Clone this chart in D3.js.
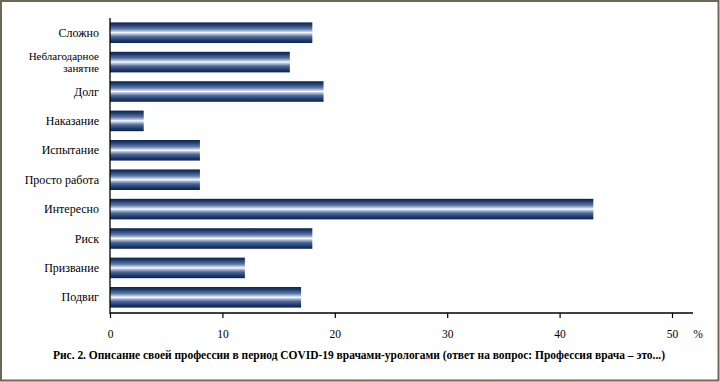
<!DOCTYPE html>
<html><head><meta charset="utf-8">
<script src="https://cdn.jsdelivr.net/npm/d3@7"></script>
<style>body{margin:0;background:#fff}svg{display:block}text{font-family:"Liberation Serif","DejaVu Serif","Times New Roman",serif}</style>
</head><body>
<script>
const categories = ["Сложно","Неблагодарное занятие","Долг","Наказание","Испытание","Просто работа","Интересно","Риск","Призвание","Подвиг"];
const labelLines = [["Сложно"],["Неблагодарное","занятие"],["Долг"],["Наказание"],["Испытание"],["Просто работа"],["Интересно"],["Риск"],["Призвание"],["Подвиг"]];
const values = [18,16,19,3,8,8,43,18,12,17];
const tickValues = [0,10,20,30,40,50];
const unitLabel = "%";
const caption = "Рис. 2. Описание своей профессии в период COVID-19 врачами-урологами (ответ на вопрос: Профессия врача – это...)";

const W=720,H=382;
const svg=d3.select("body").append("svg").attr("width",W).attr("height",H);
svg.append("rect").attr("x",1).attr("y",1).attr("width",W-2.5).attr("height",H-2.5)
  .attr("fill","#fff").attr("stroke","#6e6658").attr("stroke-width",2);

const x=d3.scaleLinear().domain([0,50]).range([110,672]);
const y=d3.scaleBand().domain(categories).range([18,312]).paddingInner(0.3).paddingOuter(0.15);

const defs=svg.append("defs");
const g=defs.append("linearGradient").attr("id","bg").attr("x1",0).attr("y1",0).attr("x2",0).attr("y2",1);
[[0,"#0c2250"],[0.12,"#1f3b6e"],[0.32,"#5f79a6"],[0.45,"#c9d3e6"],[0.5,"#ffffff"],[0.56,"#b7c4dd"],[0.7,"#4c6798"],[0.88,"#1d3768"],[1,"#0c2250"]]
 .forEach(([o,c])=>g.append("stop").attr("offset",o).attr("stop-color",c));

svg.append("g").selectAll("rect").data(categories).join("rect")
  .attr("x",x(0)).attr("y",d=>y(d)).attr("height",y.bandwidth())
  .attr("width",(d,i)=>x(values[i])-x(0)).attr("fill","url(#bg)");

svg.append("line").attr("x1",110).attr("x2",110).attr("y1",18).attr("y2",314).attr("stroke","#000").attr("stroke-width",1.3);

const xa=svg.append("g").attr("transform","translate(0,313)")
  .call(d3.axisBottom(x).tickValues(tickValues).tickSize(5).tickSizeOuter(0));
xa.select(".domain").remove();
xa.selectAll(".tick line").attr("stroke","#000").attr("stroke-width",1.2);
xa.selectAll(".tick text").attr("font-family",null).attr("font-size",11.5).attr("fill","#000").attr("dy","1.5em");
svg.append("line").attr("x1",110).attr("x2",693).attr("y1",313).attr("y2",313).attr("stroke","#000").attr("stroke-width",1.3);
svg.append("text").attr("x",698).attr("y",338).attr("font-size",11.5).attr("text-anchor","middle").text(unitLabel);

const lab=svg.append("g").attr("fill","#000").attr("text-anchor","end");
categories.forEach((c,i)=>{
  const lines=labelLines[i];
  const cy=y(c)+y.bandwidth()/2;
  const fs=lines.length>1?11:12, gap=12;
  lines.forEach((l,j)=>lab.append("text").attr("x",99).attr("font-size",fs)
    .attr("y",cy-(lines.length-1)*gap/2+j*gap+4).text(l));
});

svg.append("text").attr("x",53).attr("y",359).attr("font-weight","bold")
  .attr("font-size",11.5).attr("textLength",612).attr("lengthAdjust","spacingAndGlyphs").text(caption);
</script>
</body></html>
